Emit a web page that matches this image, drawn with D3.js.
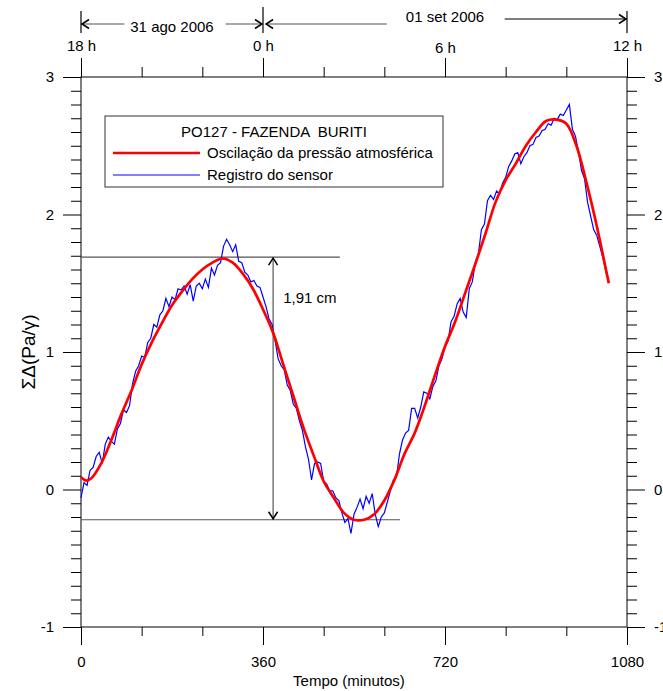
<!DOCTYPE html>
<html>
<head>
<meta charset="utf-8">
<script src="https://cdn.jsdelivr.net/npm/d3@7"></script>
<style>
  body { margin: 0; background: #fff; }
  svg { font-family: "Liberation Sans", Arial, sans-serif; }
</style>
</head>
<body>
<svg id="chart" width="663" height="691"></svg>
<script>
// Smoothed atmospheric pressure oscillation (minutes, value)
const redTime  = [0, 10, 20, 40, 60, 80, 100, 120, 140, 160, 180, 200, 220, 240, 260, 280, 300, 320, 340, 360,
                  380, 400, 420, 440, 460, 480, 500, 520, 540, 560, 580, 600, 620, 640, 660, 680, 700, 720, 740,
                  760, 780, 800, 820, 840, 860, 880, 900, 920, 940, 960, 980, 1000, 1020, 1040, 1044];
const redValue = [0.09, 0.065, 0.08, 0.19, 0.36, 0.55, 0.72, 0.91, 1.07, 1.21, 1.34, 1.44, 1.53, 1.60, 1.65, 1.68, 1.65, 1.57, 1.46, 1.31,
                  1.14, 0.91, 0.68, 0.45, 0.25, 0.06, -0.06, -0.17, -0.22, -0.22, -0.18, -0.08, 0.07, 0.26, 0.41, 0.61, 0.83, 1.04, 1.22,
                  1.43, 1.64, 1.86, 2.09, 2.25, 2.37, 2.50, 2.60, 2.68, 2.69, 2.66, 2.50, 2.23, 1.92, 1.57, 1.50];

// Sensor record, one reading every 6 minutes starting at minute 0
const blueStep = 6;
const blueValue = [
  -0.06, 0.05, 0.03, 0.14, 0.16, 0.24, 0.27, 0.19, 0.33, 0.38,
   0.35, 0.33, 0.44, 0.48, 0.58, 0.56, 0.61, 0.77, 0.86, 0.90,
   0.97, 0.96, 1.07, 1.10, 1.20, 1.18, 1.27, 1.30, 1.39, 1.33,
   1.40, 1.38, 1.46, 1.45, 1.48, 1.42, 1.49, 1.37, 1.48, 1.50,
   1.46, 1.53, 1.47, 1.61, 1.56, 1.63, 1.65, 1.77, 1.82, 1.78,
   1.73, 1.78, 1.66, 1.65, 1.58, 1.56, 1.51, 1.52, 1.48, 1.47,
   1.40, 1.33, 1.24, 1.20, 1.08, 0.95, 0.90, 0.87, 0.76, 0.72,
   0.62, 0.59, 0.50, 0.43, 0.31, 0.22, 0.07, 0.19, 0.20, 0.19,
   0.06, 0.04, -0.01, -0.01, -0.06, -0.08, -0.17, -0.24, -0.21, -0.32,
  -0.18, -0.13, -0.07, -0.14, -0.05, -0.10, -0.03, -0.18, -0.27, -0.20,
  -0.17, -0.09, -0.01, 0.07, 0.09, 0.26, 0.36, 0.41, 0.43, 0.59,
   0.59, 0.52, 0.60, 0.71, 0.70, 0.66, 0.75, 0.79, 0.90, 0.95,
   1.04, 1.08, 1.22, 1.26, 1.35, 1.39, 1.29, 1.25, 1.46, 1.51,
   1.65, 1.71, 1.89, 1.93, 2.10, 2.14, 2.11, 2.17, 2.15, 2.23,
   2.27, 2.35, 2.39, 2.44, 2.45, 2.37, 2.42, 2.45, 2.50, 2.51,
   2.56, 2.57, 2.61, 2.62, 2.66, 2.65, 2.70, 2.69, 2.73, 2.72,
   2.76, 2.80, 2.62, 2.57, 2.46, 2.32, 2.26, 2.09, 1.99, 1.89,
   1.85, 1.77, 1.69, 1.59, 1.52
];

// Axis ticks and labels
const xMajorTicks = [0, 360, 720, 1080];
const yMajorTicks = [-1, 0, 1, 2, 3];
const hourTicks   = [0, 360, 720, 1080];
const hourLabels  = ["18 h", "0 h", "6 h", "12 h"];
const dayLabels   = ["31 ago 2006", "01 set 2006"];

// Amplitude annotation
const peakValue = 1.69;
const troughValue = -0.22;
const amplitudeLabel = "1,91 cm";

const legendTitle = "PO127 - FAZENDA  BURITI";
const seriesNames = ["Oscilação da pressão atmosférica", "Registro do sensor"];
const seriesColors = ["#ff0000", "#0000ff"];

const FS = 15;
const margin = { left: 81, right: 36, top: 77, bottom: 64 };
const W = 663, H = 691;
const svg = d3.select("#chart");

const x = d3.scaleLinear().domain([0, 1080]).range([margin.left, W - margin.right]);
const y = d3.scaleLinear().domain([-1, 3]).range([H - margin.bottom, margin.top]);

const yMinor = d3.range(-10, 31).map(d => d / 10).filter(v => !yMajorTicks.includes(v));
const xMinor = d3.range(0, 1081, 120).filter(v => !xMajorTicks.includes(v));
const plain = d => String(d);

function styleAxis(g) {
  g.selectAll("path.domain").remove();
  g.selectAll("line").attr("stroke", "#000").attr("stroke-width", 1);
  g.selectAll("text").attr("font-size", FS).attr("fill", "#000");
}

// Left axis
svg.append("g").attr("transform", `translate(${x(0)},0)`)
  .call(d3.axisLeft(y).tickValues(yMinor).tickSize(10).tickFormat("")).call(styleAxis);
svg.append("g").attr("transform", `translate(${x(0)},0)`)
  .call(d3.axisLeft(y).tickValues(yMajorTicks).tickSize(18).tickPadding(9).tickFormat(plain)).call(styleAxis);

// Right axis
svg.append("g").attr("transform", `translate(${x(1080)},0)`)
  .call(d3.axisRight(y).tickValues(yMinor).tickSize(10).tickFormat("")).call(styleAxis);
svg.append("g").attr("transform", `translate(${x(1080)},0)`)
  .call(d3.axisRight(y).tickValues(yMajorTicks).tickSize(18).tickPadding(9).tickFormat(plain)).call(styleAxis);

// Bottom axis
svg.append("g").attr("transform", `translate(0,${y(-1)})`)
  .call(d3.axisBottom(x).tickValues(xMinor).tickSize(9).tickFormat("")).call(styleAxis);
svg.append("g").attr("transform", `translate(0,${y(-1)})`)
  .call(d3.axisBottom(x).tickValues(xMajorTicks).tickSize(18).tickPadding(11).tickFormat(plain)).call(styleAxis);

// Top axis (clock hours)
svg.append("g").attr("transform", `translate(0,${y(3)})`)
  .call(d3.axisTop(x).tickValues(xMinor).tickSize(10).tickFormat("")).call(styleAxis);
const topAxis = svg.append("g").attr("transform", `translate(0,${y(3)})`)
  .call(d3.axisTop(x).tickValues(hourTicks).tickSize(19).tickPadding(7).tickFormat((d, i) => hourLabels[i]))
  .call(styleAxis);
topAxis.selectAll("text").filter((d, i) => i === 2).attr("dy", "2");

// Plot frame
svg.append("rect")
  .attr("x", x(0)).attr("y", y(3))
  .attr("width", x(1080) - x(0)).attr("height", y(-1) - y(3))
  .attr("fill", "none").attr("stroke", "#000").attr("stroke-width", 1);

// Axis titles
svg.append("text").attr("x", x(530)).attr("y", H - 5)
  .attr("text-anchor", "middle").attr("font-size", FS).text("Tempo (minutos)");
svg.append("text").attr("transform", `translate(35,${y(1)}) rotate(-90)`)
  .attr("text-anchor", "middle").attr("font-size", 19).text("ΣΔ(Pa/γ)");

// Chevron arrowheads
function arrowHead(px, py, dir, vertical) {
  const a = 7, b = 4.5;
  const d = vertical
    ? `M${px - b},${py - dir * a}L${px},${py}L${px + b},${py - dir * a}`
    : `M${px - dir * a},${py - b}L${px},${py}L${px - dir * a},${py + b}`;
  svg.append("path").attr("d", d).attr("fill", "none").attr("stroke", "#000").attr("stroke-width", 1.5);
}
function segment(x1, y1, x2, y2, color) {
  svg.append("line").attr("x1", x1).attr("y1", y1).attr("x2", x2).attr("y2", y2)
    .attr("stroke", color || "#555").attr("stroke-width", 1.2);
}

// Day brackets above the top axis
const axisTopY = y(3);
segment(x(0), axisTopY - 66, x(0), axisTopY - 44, "#000");
segment(x(360), axisTopY - 70, x(360), axisTopY - 44, "#000");
segment(x(1080), axisTopY - 66, x(1080), axisTopY - 44, "#000");

const rowA = axisTopY - 53, rowB = axisTopY - 58;
segment(x(0), rowA, x(86), rowA);
svg.append("text").attr("x", x(180)).attr("y", rowA + 8).attr("text-anchor", "middle")
  .attr("font-size", FS).text(dayLabels[0]);
segment(x(286), rowA, x(360), rowA);
arrowHead(x(0) + 1, rowA, -1, false);
arrowHead(x(360) - 1, rowA, 1, false);

segment(x(366), rowA, x(605), rowA);
arrowHead(x(366), rowA, -1, false);
svg.append("text").attr("x", x(720)).attr("y", rowB + 3).attr("text-anchor", "middle")
  .attr("font-size", FS).text(dayLabels[1]);
segment(x(838), rowB, x(1080), rowB, "#000");
arrowHead(x(1080) - 1, rowB, 1, false);

// Amplitude reference lines and double arrow
segment(x(0), y(peakValue), x(512), y(peakValue));
segment(x(0), y(troughValue), x(631), y(troughValue));
segment(x(380), y(peakValue), x(380), y(troughValue));
arrowHead(x(380), y(peakValue) + 1, -1, true);
arrowHead(x(380), y(troughValue) - 1, 1, true);
svg.append("text").attr("x", x(400)).attr("y", y(1.36)).attr("font-size", FS).text(amplitudeLabel);

// Series
const blueData = blueValue.map((v, i) => [i * blueStep, v]);
const redData = redTime.map((t, i) => [t, redValue[i]]);

svg.append("path").datum(blueData)
  .attr("d", d3.line().x(d => x(d[0])).y(d => y(d[1])))
  .attr("fill", "none").attr("stroke", seriesColors[1]).attr("stroke-width", 1.2);

svg.append("path").datum(redData)
  .attr("d", d3.line().x(d => x(d[0])).y(d => y(d[1])).curve(d3.curveCatmullRom))
  .attr("fill", "none").attr("stroke", seriesColors[0]).attr("stroke-width", 2.7);

// Legend
const lg = svg.append("g");
lg.append("rect").attr("x", 105).attr("y", 116).attr("width", 338).attr("height", 71)
  .attr("fill", "#fff").attr("stroke", "#333").attr("stroke-width", 1);
lg.append("text").attr("x", 274).attr("y", 137).attr("text-anchor", "middle").attr("font-size", FS)
  .style("white-space", "pre").text(legendTitle);
seriesNames.forEach((name, i) => {
  const ly = 153 + i * 22;
  lg.append("line").attr("x1", 113).attr("x2", 200).attr("y1", ly).attr("y2", ly)
    .attr("stroke", seriesColors[i]).attr("stroke-width", i === 0 ? 2.7 : 1.1);
  lg.append("text").attr("x", 207).attr("y", ly + 5).attr("font-size", FS).text(name);
});
</script>
</body>
</html>
